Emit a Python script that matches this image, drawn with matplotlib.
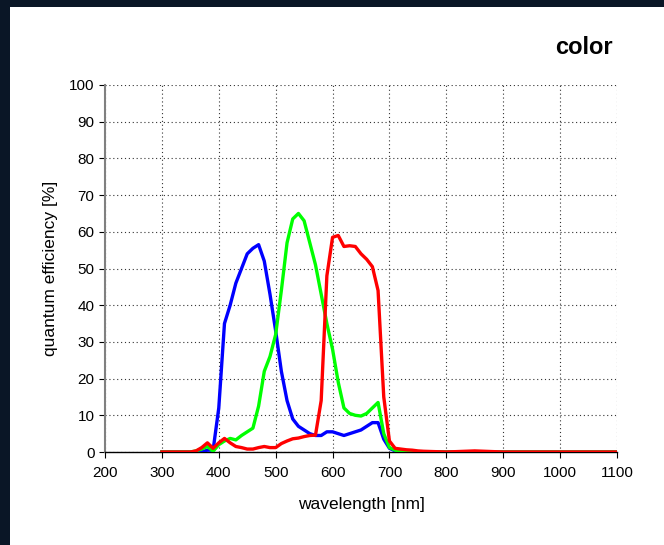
import numpy as np
import matplotlib
matplotlib.use("Agg")
import matplotlib.pyplot as plt
from matplotlib.patches import Rectangle

plt.rcParams['font.family'] = ['Liberation Sans', 'DejaVu Sans']

# wavelengths in nm
wavelength = [300, 310, 320, 330, 340, 350, 360, 370, 380, 390,
              400, 410, 420, 430, 440, 450, 460, 470, 480, 490,
              500, 510, 520, 530, 540, 550, 560, 570, 580, 590,
              600, 610, 620, 630, 640, 650, 660, 670, 680, 690,
              700, 710, 720, 730, 740, 750, 760, 800, 850, 900,
              950, 1000, 1050, 1100]

# quantum efficiency [%]
qe_blue = [0, 0, 0, 0, 0, 0, 0, 0, 0.5, 0.5,
           12, 35, 40, 46, 50, 54, 55.5, 56.5, 52, 43,
           33, 22, 14, 9, 7, 6, 5, 4.5, 4.5, 5.5,
           5.5, 5, 4.5, 5, 5.5, 6, 7, 8, 8, 3.5,
           1, 0.3, 0.1, 0, 0, 0, 0, 0, 0, 0,
           0, 0, 0, 0]
qe_green = [0, 0, 0, 0, 0, 0, 0.3, 0.8, 1.5, 0.2,
            2, 3, 3.7, 3.3, 4.5, 5.5, 6.5, 12.5, 22, 26,
            32, 44, 57, 63.5, 65, 63, 57, 51, 43, 35,
            28, 19, 12, 10.5, 10, 9.8, 10.5, 12, 13.5, 5,
            1.2, 0.5, 0.2, 0.1, 0, 0, 0, 0, 0, 0,
            0, 0, 0, 0]
qe_red = [0, 0, 0, 0, 0, 0, 0.3, 1.2, 2.5, 1,
          2.5, 3.7, 2.5, 1.5, 1.2, 0.8, 0.8, 1.2, 1.5, 1.2,
          1.2, 2.3, 3, 3.6, 3.8, 4.2, 4.5, 4.6, 14, 48,
          58.5, 59, 56, 56.2, 56, 54, 52.5, 50.5, 44, 15,
          3, 1, 0.8, 0.6, 0.5, 0.3, 0.2, 0, 0.3, 0,
          0, 0, 0, 0]

fig = plt.figure(figsize=(6.64, 5.45), dpi=100)
fig.patch.set_facecolor('#0a1626')
fig.patches.append(Rectangle((10 / 664, 0), 1, 1 - 7 / 545, transform=fig.transFigure,
                             facecolor='white', edgecolor='none', zorder=-1))

ax = fig.add_axes([105 / 664, 1 - 452 / 545, 512 / 664, 367 / 545])
ax.set_facecolor('white')

ax.plot(wavelength, qe_blue, color='#0000ff', lw=2.4, zorder=3)
ax.plot(wavelength, qe_green, color='#00ff00', lw=2.4, zorder=3)
ax.plot(wavelength, qe_red, color='#ff0000', lw=2.4, zorder=4)

ax.set_xlim(200, 1100)
ax.set_ylim(0, 100)
ax.set_xticks(range(200, 1101, 100))
ax.set_yticks(range(0, 101, 10))
ax.grid(True, linestyle=(0, (1, 2.5)), color='#333333', linewidth=0.8)
ax.set_axisbelow(True)

for s in ['top', 'right']:
    ax.spines[s].set_visible(False)
ax.spines['left'].set_color('#808080')
ax.spines['left'].set_linewidth(1.5)
ax.spines['bottom'].set_color('black')
ax.spines['bottom'].set_linewidth(1.0)
ax.tick_params(axis='both', direction='out', length=4, labelsize=11, colors='black')
ax.tick_params(axis='x', pad=6)

ax.set_xlabel('wavelength [nm]', fontsize=12.5, labelpad=12)
ax.set_ylabel('quantum efficiency [%]', fontsize=12.5, labelpad=8)

fig.text(584 / 664, 1 - 47 / 545, 'color', fontsize=17, fontweight='bold',
         ha='center', va='center')

fig.savefig('out.png', dpi=100, facecolor=fig.get_facecolor())
